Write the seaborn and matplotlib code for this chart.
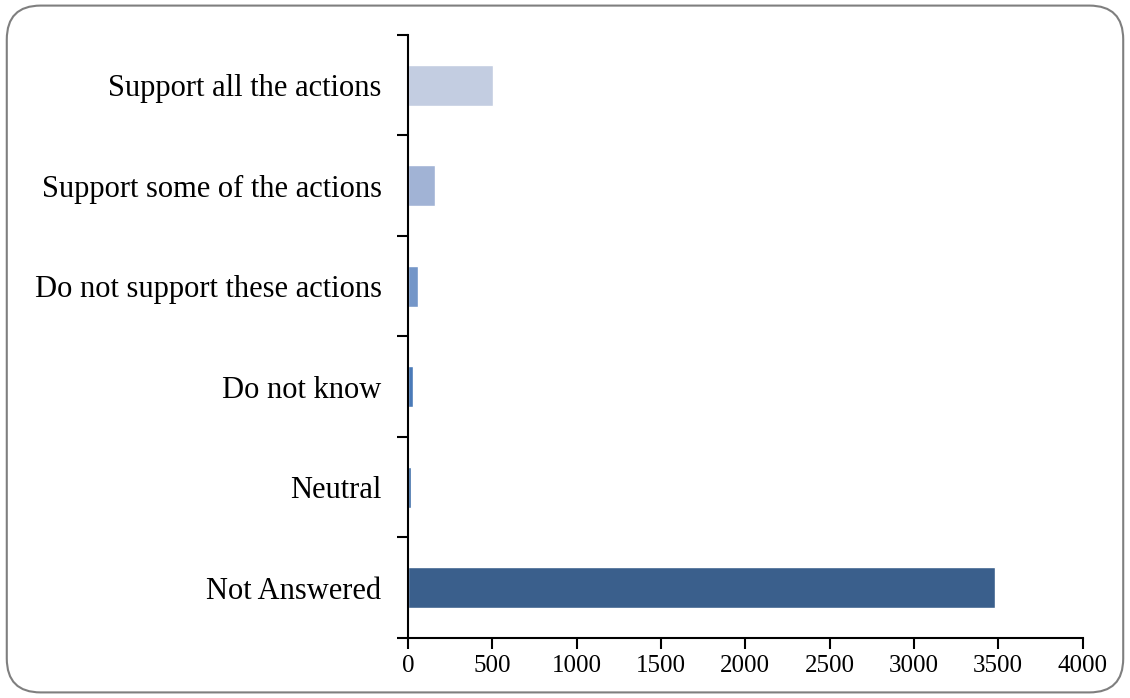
import matplotlib
matplotlib.use("Agg")
import matplotlib.pyplot as plt
import seaborn as sns
import numpy as np
import pandas as pd
from matplotlib.patches import FancyBboxPatch

# Data
categories = ['Support all the actions', 'Support some of the actions',
              'Do not support these actions', 'Do not know', 'Neutral', 'Not Answered']
counts = [502, 160, 57, 33, 20, 3482]
bar_colors = ['#C3CDE1', '#A1B3D5', '#7496C8', '#4A7AB8', '#3F6EA8', '#3A5F8C']

sns.set_theme(style='white')
plt.rcParams['font.family'] = ['Liberation Serif', 'DejaVu Serif']

df = pd.DataFrame({'category': categories, 'count': counts})

fig = plt.figure(figsize=(11.3, 6.98), dpi=100)
ax = fig.add_axes([0.361, 0.086, 0.597, 0.864])

sns.barplot(data=df, x='count', y='category', hue='category', palette=bar_colors,
            orient='h', width=0.405, legend=False, ax=ax, saturation=1)

ax.set_xlim(0, 4000)
ax.set_ylim(len(categories) - 0.5, -0.5)
ax.set_xticks(np.arange(0, 4001, 500))
ax.set_xlabel('')
ax.set_ylabel('')

# category labels without ticks, boundary ticks as minor
ax.tick_params(axis='y', which='major', length=0, labelsize=22, pad=19, colors='black')
ax.set_yticks(np.arange(-0.5, len(categories), 1), minor=True)
ax.tick_params(axis='y', which='minor', length=8, width=1.5, color='black', direction='out', left=True)
ax.tick_params(axis='x', which='major', length=8, width=1.5, color='black', direction='out',
               bottom=True, labelsize=18, pad=4, labelcolor='black')

for side in ['top', 'right']:
    ax.spines[side].set_visible(False)
for side in ['left', 'bottom']:
    ax.spines[side].set_color('black')
    ax.spines[side].set_linewidth(1.5)

# rounded frame around the figure
frame = FancyBboxPatch((0.006, 0.008), 0.988, 0.984, boxstyle='round,pad=0,rounding_size=0.03',
                       transform=fig.transFigure, facecolor='none', edgecolor='#7f7f7f',
                       linewidth=1.5, mutation_aspect=1.62)
fig.patches.append(frame)

fig.savefig('out.png', dpi=100)
